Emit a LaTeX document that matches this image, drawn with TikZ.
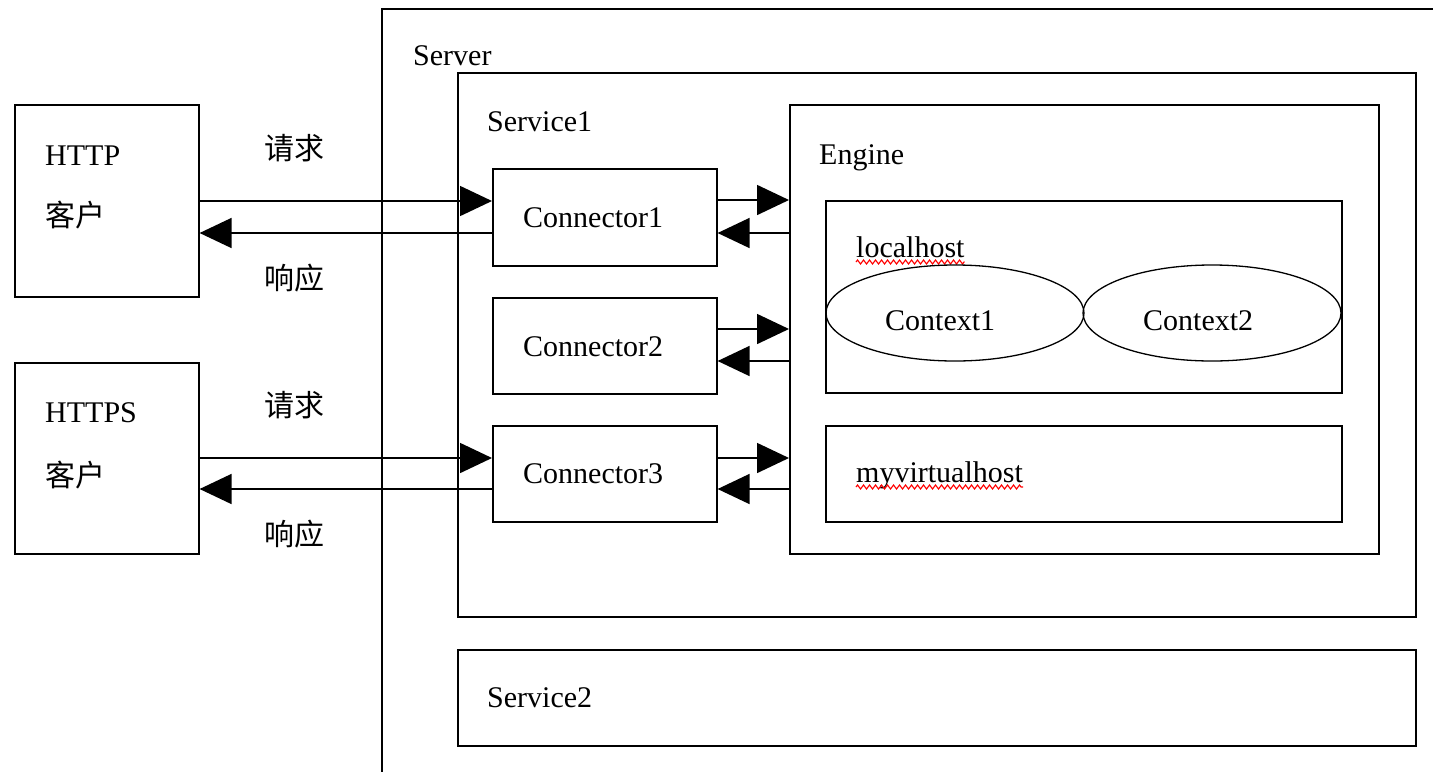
\documentclass[tikz,border=0pt]{standalone}
\usepackage{fontspec}
\setmainfont{Liberation Serif}
\newfontfamily\cjk{Noto Sans CJK SC}
\usetikzlibrary{arrows.meta,decorations.pathmorphing,shapes.geometric}
\newcommand\lbfont{\fontsize{30}{36}\selectfont}
\tikzset{
  box/.style={draw, line width=1.6pt, rectangle, inner sep=0pt, anchor=north west},
  lbl/.style={inner sep=0pt, anchor=base west, font=\lbfont},
  zh/.style={inner sep=0pt, anchor=base west, font=\cjk\lbfont},
  ctx/.style={draw, line width=1.3pt, ellipse, inner sep=0pt, minimum width=258pt, minimum height=96pt},
  arr/.style={line width=1.6pt, -{Triangle[length=32pt,width=30pt]}},
  squig/.style={red, line width=1.1pt, decorate, decoration={zigzag, amplitude=2pt, segment length=6pt}}
}
\begin{document}
\begin{tikzpicture}[x=1pt,y=-1pt]
\useasboundingbox[fill=white] (0,0) rectangle (1433,772);

% clients
\node[box, minimum width=184pt, minimum height=192pt] (http) at (14,104) {};
\node[box, minimum width=184pt, minimum height=191pt] (https) at (14,362) {};
\node[lbl] (httpT) at (45,165) {HTTP};
\node[zh] (httpK) at (45,226) {客户};
\node[lbl] (httpsT) at (45,422) {HTTPS};
\node[zh] (httpsK) at (45,486) {客户};

\node[zh] (req1) at (264,159) {请求};
\node[zh] (res1) at (264,289) {响应};
\node[zh] (req2) at (264,416) {请求};
\node[zh] (res2) at (264,545) {响应};

% server
\coordinate (srvR) at (1433,9);
\coordinate (srvTL) at (382,9);
\coordinate (srvB) at (382,772);
\draw[line width=1.6pt] (srvR) -- (srvTL) -- (srvB);
\node[lbl] (server) at (413,65) {Server};

% services
\node[box, minimum width=958pt, minimum height=544pt] (svc1) at (457,72) {};
\node[lbl] (svc1T) at (487,131) {Service1};
\node[box, minimum width=958pt, minimum height=96pt] (svc2) at (457,649) {};
\node[lbl] (svc2T) at (487,707) {Service2};

% connectors
\node[box, minimum width=224pt, minimum height=97pt] (c1) at (492,168) {};
\node[box, minimum width=224pt, minimum height=96pt] (c2) at (492,297) {};
\node[box, minimum width=224pt, minimum height=96pt] (c3) at (492,425) {};
\node[lbl] (c1T) at (523,227) {Connector1};
\node[lbl] (c2T) at (523,356) {Connector2};
\node[lbl] (c3T) at (523,483) {Connector3};

% engine
\node[box, minimum width=589pt, minimum height=449pt] (eng) at (789,104) {};
\node[lbl] (engT) at (819,164) {Engine};
\node[box, minimum width=516pt, minimum height=192pt] (lh) at (825,200) {};
\node[lbl] (lhT) at (856,257) {localhost};
\node[box, minimum width=516pt, minimum height=96pt] (vh) at (825,425) {};
\node[lbl] (vhT) at (856,482) {myvirtualhost};
\draw[squig] ([yshift=-5pt]lhT.base west) -- ([yshift=-5pt]lhT.base east);
\draw[squig] ([yshift=-5pt]vhT.base west) -- ([yshift=-5pt]vhT.base east);

\node[ctx] (ctx1) at (955,313) {};
\node[ctx] (ctx2) at (1212,313) {};
\node[lbl] (ctx1T) at (885,330) {Context1};
\node[lbl] (ctx2T) at (1143,330) {Context2};

% arrows: clients <-> connectors
\draw[arr] (http.east |- 0,201) -- (c1.west |- 0,201);
\draw[arr] (c1.west |- 0,233) -- (http.east |- 0,233);
\draw[arr] (https.east |- 0,458) -- (c3.west |- 0,458);
\draw[arr] (c3.west |- 0,489) -- (https.east |- 0,489);

% arrows: connectors <-> engine
\draw[arr] (c1.east |- 0,200) -- (eng.west |- 0,200);
\draw[arr] (eng.west |- 0,233) -- (c1.east |- 0,233);
\draw[arr] (c2.east |- 0,329) -- (eng.west |- 0,329);
\draw[arr] (eng.west |- 0,361) -- (c2.east |- 0,361);
\draw[arr] (c3.east |- 0,458) -- (eng.west |- 0,458);
\draw[arr] (eng.west |- 0,489) -- (c3.east |- 0,489);
\end{tikzpicture}
\end{document}
